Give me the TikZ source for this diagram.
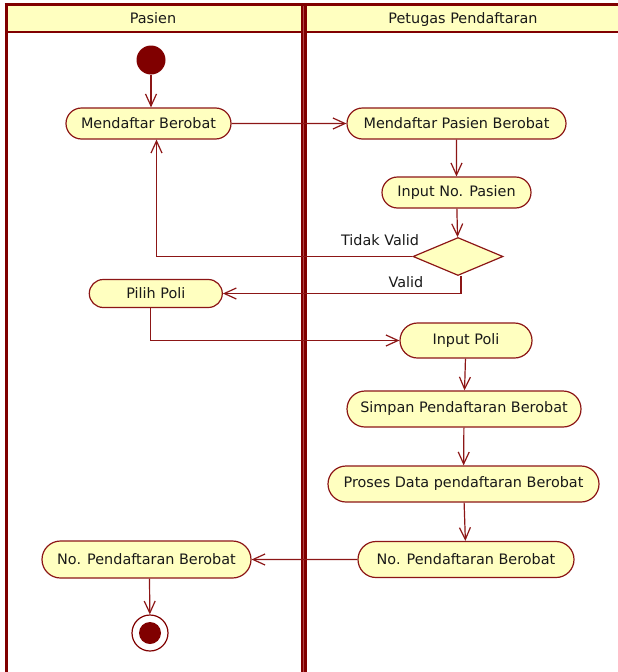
\documentclass[tikz,border=0pt]{standalone}
\usepackage{fontspec}
\setmainfont{DejaVu Sans}
\usetikzlibrary{arrows.meta,shapes.geometric,shapes.misc}
\definecolor{umlred}{RGB}{128,0,0}
\definecolor{linered}{RGB}{140,22,22}
\definecolor{midred}{RGB}{175,70,70}
\definecolor{actfill}{RGB}{255,255,192}
\definecolor{ink}{RGB}{25,25,25}
\begin{document}
\begin{tikzpicture}[x=1pt,y=-1pt,
  font=\fontsize{14.4}{16}\selectfont,
  act/.style={rounded rectangle, draw=linered, line width=1.2pt, fill=actfill,
    text=ink, inner sep=0pt},
  arr/.style={draw=linered, line width=1.2pt,
    -{Straight Barb[length=12pt,width=11pt,line width=1.2pt]}},
  lbl/.style={text=ink, inner sep=1pt},
  lanehead/.style={text=ink, inner sep=0pt, anchor=base}]
\useasboundingbox (0,0) rectangle (618,672);

% swimlane frame
\fill[actfill] (6,4.7) rectangle (618,31.5);
\draw[umlred, line width=2.7pt] (4.7,4.7) -- (618,4.7);
\draw[umlred, line width=2pt] (6,31.5) -- (618,31.5);
\draw[umlred, line width=3pt] (6.2,3.3) -- (6.2,672);
\draw[umlred, line width=6pt] (303.5,3.3) -- (303.5,672);
\draw[midred, line width=1pt] (303.5,6) -- (303.5,672);
\node[lanehead] (lanep) at (153,23.5) {Pasien};
\node[lanehead] (lanet) at (463,23.5) {Petugas Pendaftaran};

% initial and final states
\node[circle, fill=umlred, minimum size=29pt, inner sep=0pt] (start) at (151,60) {};
\node[circle, draw=umlred, line width=1.2pt, fill=white, minimum size=36pt, inner sep=0pt] (fin) at (150,633) {};
\node[circle, fill=umlred, minimum size=22pt, inner sep=0pt] (fincore) at (150,633) {};

% activities
\node[act, minimum width=165pt, minimum height=31pt] (mb) at (148.5,123.5) {Mendaftar Berobat};
\node[act, minimum width=219pt, minimum height=31pt] (mpb) at (456.5,123.5) {Mendaftar Pasien Berobat};
\node[act, minimum width=149pt, minimum height=31pt] (inp) at (456.5,192.5) {Input No. Pasien};
\node[diamond, draw=linered, line width=1.2pt, fill=actfill, minimum width=90pt,
  minimum height=38pt, inner sep=0pt] (dec) at (458,256.5) {};
\node[act, minimum width=133pt, minimum height=28pt] (pp) at (155.8,293.5) {Pilih Poli};
\node[act, minimum width=132pt, minimum height=35pt] (ip) at (466,340.5) {Input Poli};
\node[act, minimum width=234pt, minimum height=36pt] (sp) at (464,409) {Simpan Pendaftaran Berobat};
\node[act, minimum width=271pt, minimum height=36pt] (pd) at (463.5,484) {Proses Data pendaftaran Berobat};
\node[act, minimum width=216pt, minimum height=36pt] (nr) at (466,559.5) {No. Pendaftaran Berobat};
\node[act, minimum width=209pt, minimum height=37pt] (nl) at (146.5,559.5) {No. Pendaftaran Berobat};

% control flow
\draw[arr] (start) -- (start |- mb.north);
\draw[arr] (mb) -- (mpb);
\draw[arr] (mpb) -- (inp);
\draw[arr] (inp) -- (dec);
\draw[arr] (dec.west) -| ([xshift=8pt]mb.south);
\node[lbl] (tv) at (380,240) {Tidak Valid};
\draw[arr] ([xshift=3pt]dec.south) |- (pp.east);
\node[lbl] (vl) at (406,282.5) {Valid};
\draw[arr] ([xshift=-5.3pt]pp.south) |- (ip.west);
\draw[arr] (ip) -- (sp);
\draw[arr] (sp) -- (pd);
\draw[arr] (pd) -- (nr);
\draw[arr] (nr) -- (nl);
\draw[arr] ([xshift=3pt]nl.south) -- (fin);
\end{tikzpicture}
\end{document}
